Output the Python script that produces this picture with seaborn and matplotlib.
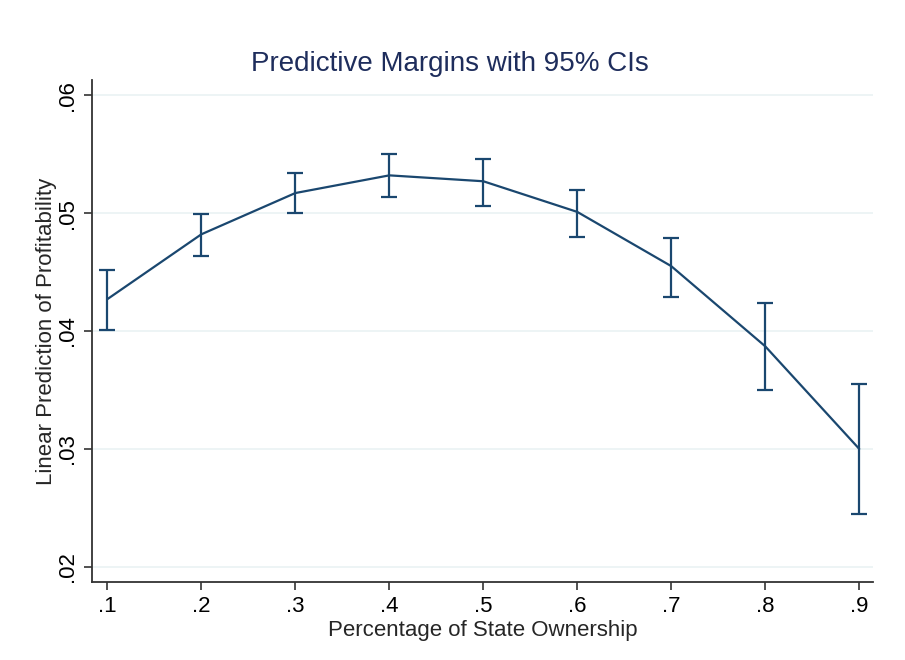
import seaborn as sns
import matplotlib.pyplot as plt
import pandas as pd

# state ownership share, predicted margin and 95% CI bounds
ownership = [0.1, 0.2, 0.3, 0.4, 0.5, 0.6, 0.7, 0.8, 0.9]
margin = [0.0427, 0.0482, 0.0517, 0.0532, 0.0527, 0.0501, 0.0455, 0.0387, 0.0300]
ci_low = [0.0401, 0.0464, 0.0500, 0.0514, 0.0506, 0.0480, 0.0429, 0.0350, 0.0245]
ci_high = [0.0452, 0.0499, 0.0534, 0.0550, 0.0546, 0.0520, 0.0479, 0.0424, 0.0355]

xtick_labels = ['.1', '.2', '.3', '.4', '.5', '.6', '.7', '.8', '.9']
ytick_vals = [0.02, 0.03, 0.04, 0.05, 0.06]
ytick_labels = ['.02', '.03', '.04', '.05', '.06']

df = pd.DataFrame({
    'ownership': ownership,
    'margin': margin,
    'low': ci_low,
    'high': ci_high
})

sns.set_style('white')
plt.rcParams['font.family'] = ['Liberation Sans', 'DejaVu Sans']

navy = '#1a476f'
fig, ax = plt.subplots(figsize=(9.05, 6.6), dpi=100)
fig.subplots_adjust(left=0.102, right=0.965, top=0.879, bottom=0.118)

for y in ytick_vals:
    ax.axhline(y, color='#eaf2f3', lw=1.2, zorder=0)

sns.lineplot(x='ownership', y='margin', data=df, color=navy, lw=1.6, ax=ax)
ax.errorbar(df['ownership'], df['margin'],
            yerr=[df['margin'] - df['low'], df['high'] - df['margin']],
            fmt='none', ecolor=navy, elinewidth=1.6, capsize=6, capthick=1.6)

ax.set_xlim(0.084, 0.915)
ax.set_ylim(0.0187, 0.0613)
ax.set_xticks(ownership)
ax.set_xticklabels(xtick_labels)
ax.set_yticks(ytick_vals)
ax.set_yticklabels(ytick_labels, rotation=90, va='center')

ax.tick_params(axis='both', direction='out', length=6, width=1.2,
               color='#333333', labelsize=16, labelcolor='black', pad=4)
ax.tick_params(axis='x', bottom=True)
ax.tick_params(axis='y', left=True)

for side in ['top', 'right']:
    ax.spines[side].set_visible(False)
for side in ['left', 'bottom']:
    ax.spines[side].set_color('#333333')
    ax.spines[side].set_linewidth(1.3)

ax.set_xlabel('Percentage of State Ownership', fontsize=16, labelpad=2)
ax.set_ylabel('Linear Prediction of Profitability', fontsize=16, labelpad=0)
fig.suptitle('Predictive Margins with 95% CIs', x=0.497, y=0.884,
             fontsize=20, color='#1e2d5c', va='bottom')

plt.savefig('out.png', dpi=100, facecolor='white')
